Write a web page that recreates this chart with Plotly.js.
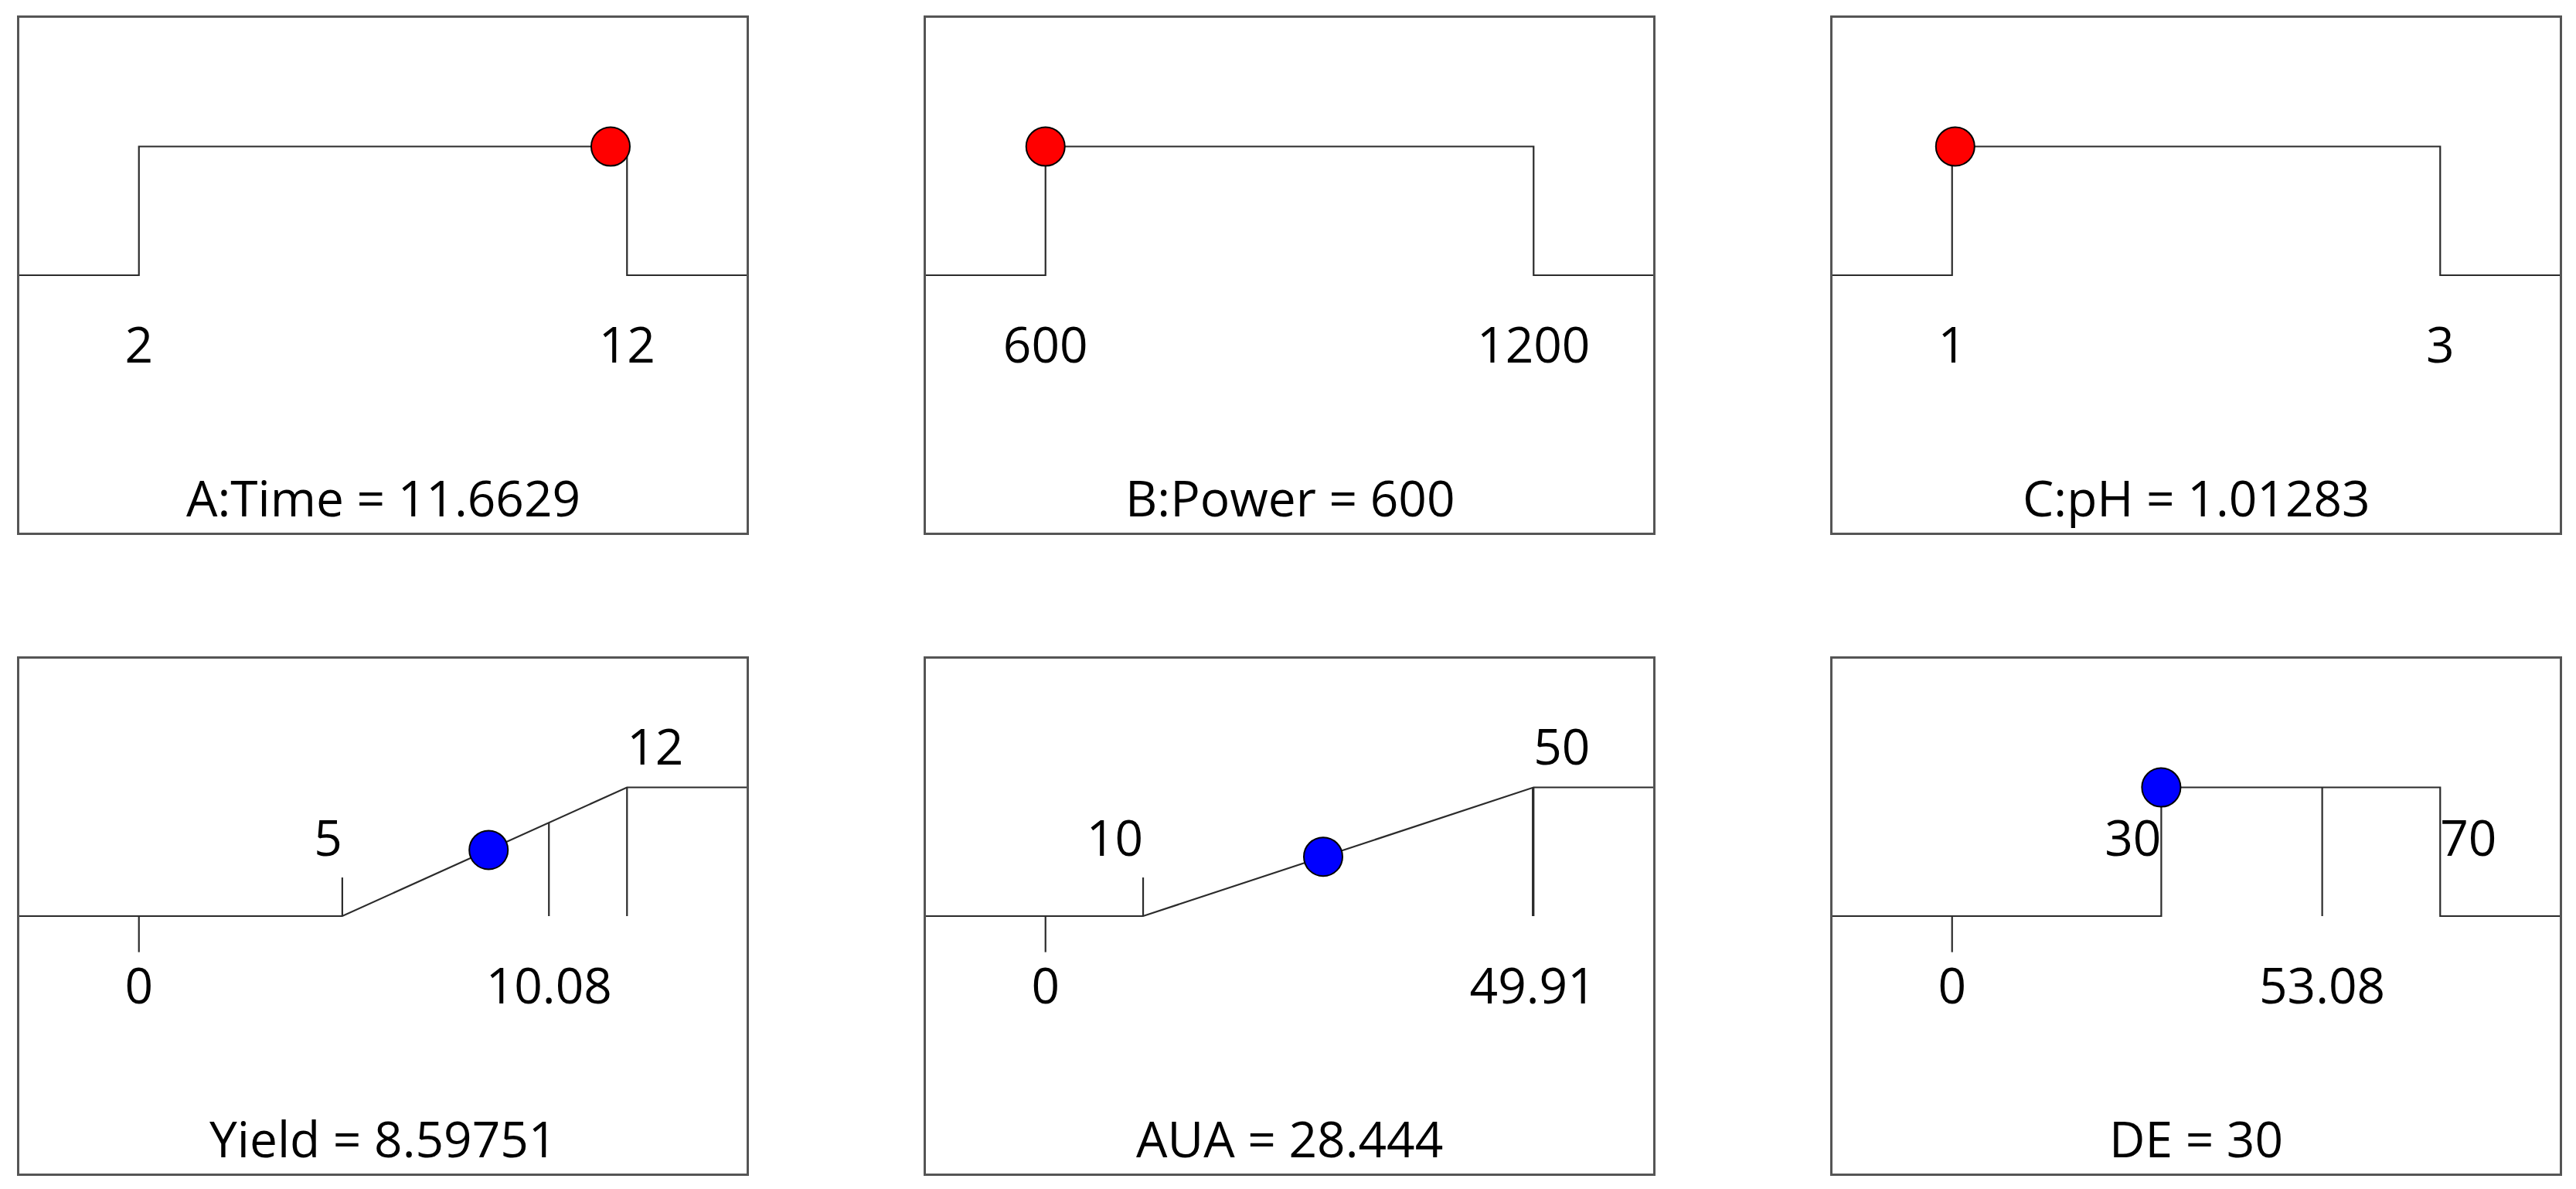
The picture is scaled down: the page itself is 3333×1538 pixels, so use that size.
<!DOCTYPE html>
<html>
<head>
<meta charset="utf-8">
<script src="https://cdn.plot.ly/plotly-3.0.1.min.js"></script>
<style>
html,body{margin:0;padding:0;background:#fff;}
#chart{width:3333px;height:1538px;}
</style>
</head>
<body>
<div id="chart"></div>
<script>
// ---------------- data ----------------
const factorNames  = ['A:Time', 'B:Power', 'C:pH'];
const factorLow    = [2, 600, 1];
const factorHigh   = [12, 1200, 3];
const factorValue  = [11.6629, 600, 1.01283];
const factorValueText = ['11.6629', '600', '1.01283'];
const factorLowText  = ['2', '600', '1'];
const factorHighText = ['12', '1200', '3'];

const responseNames = ['Yield', 'AUA', 'DE'];
const responseGoal  = ['maximize', 'maximize', 'range'];
const responseLow   = [5, 10, 30];
const responseHigh  = [12, 50, 70];
const responseObsMin = [0, 0, 0];
const responseObsMax = [10.08, 49.91, 53.08];
const responseValue  = [8.59751, 28.444, 30];
const responseDesirability = [0.514, 0.461, 1];
const responseValueText = ['8.59751', '28.444', '30'];
const responseLowText  = ['5', '10', '30'];
const responseHighText = ['12', '50', '70'];
const responseObsMinText = ['0', '0', '0'];
const responseObsMaxText = ['10.08', '49.91', '53.08'];

// ---------------- styles / layout constants ----------------
const W = 3333, H = 1538;
const colPx = [[25, 966], [1198, 2139], [2371, 3312]];
const rowPx = [[23, 689], [852, 1518]];
const EXT = 0.245;               // axis padding as fraction of span
const FONT = 'Open Sans, Noto Sans, sans-serif';
const FS = 64;
const LINE = '#2b2b2b';
const LW = 2.2;
const BORDER = '#555555';
const Y_BELOW = -0.584, Y_TOPLOW = 0.564, Y_TOPHIGH = 1.272, TICK_DN = -0.28, TICK_UP = 0.30;

const traces = [];
const annotations = [];
const layout = {
  width: W, height: H,
  margin: {l: 0, r: 0, t: 0, b: 0},
  paper_bgcolor: '#ffffff', plot_bgcolor: '#ffffff',
  showlegend: false, hovermode: false,
  font: {family: FONT, size: FS, color: '#000'}
};

function axisNames(i) {
  const n = i === 0 ? '' : String(i + 1);
  return {xa: 'xaxis' + n, ya: 'yaxis' + n, x: 'x' + n, y: 'y' + n};
}

function setupAxes(i, row, col, lo, hi) {
  const a = axisNames(i);
  const span = hi - lo;
  const common = {showgrid: false, zeroline: false, showticklabels: false, ticks: '',
                  showline: true, mirror: true, linecolor: BORDER, linewidth: 3, fixedrange: true};
  layout[a.xa] = Object.assign({}, common, {
    domain: [colPx[col][0] / W, colPx[col][1] / W],
    range: [lo - EXT * span, hi + EXT * span], anchor: a.y
  });
  layout[a.ya] = Object.assign({}, common, {
    domain: [1 - rowPx[row][1] / H, 1 - rowPx[row][0] / H],
    range: [-2, 2], anchor: a.x
  });
  return a;
}

function line(a, xs, ys) {
  traces.push({type: 'scatter', mode: 'lines', x: xs, y: ys, xaxis: a.x, yaxis: a.y,
    line: {color: LINE, width: LW}, hoverinfo: 'skip'});
}
function text(a, xs, ys, txt, pos) {
  traces.push({type: 'scatter', mode: 'text', x: xs, y: ys, text: txt, textposition: pos,
    xaxis: a.x, yaxis: a.y, textfont: {family: FONT, size: FS, color: '#000'},
    cliponaxis: false, hoverinfo: 'skip'});
}
function point(a, x, y, color) {
  traces.push({type: 'scatter', mode: 'markers', x: [x], y: [y], xaxis: a.x, yaxis: a.y,
    marker: {size: 50, color: color, line: {color: '#000', width: 2}},
    cliponaxis: false, hoverinfo: 'skip'});
}
function title(a, str) {
  annotations.push({xref: a.x + ' domain', yref: a.y + ' domain', x: 0.5, y: 0.069,
    xanchor: 'center', yanchor: 'middle', text: str, showarrow: false,
    font: {family: FONT, size: FS, color: '#000'}});
}

// ---------------- factors (top row) ----------------
factorNames.forEach((name, k) => {
  const lo = factorLow[k], hi = factorHigh[k], span = hi - lo;
  const a = setupAxes(k, 0, k, lo, hi);
  line(a, [lo - 2 * span, lo, lo, hi, hi, hi + 2 * span], [0, 0, 1, 1, 0, 0]);
  text(a, [lo, hi], [Y_BELOW, Y_BELOW], [factorLowText[k], factorHighText[k]], 'middle center');
  point(a, factorValue[k], 1, '#ff0000');
  title(a, name + ' = ' + factorValueText[k]);
});

// ---------------- responses (bottom row) ----------------
responseNames.forEach((name, k) => {
  const low = responseLow[k], high = responseHigh[k];
  const lo = Math.min(responseObsMin[k], low), hi = Math.max(responseObsMax[k], high);
  const span = hi - lo;
  const a = setupAxes(k + 3, 1, k, lo, hi);
  const ramp = v => Math.max(0, Math.min(1, (v - low) / (high - low)));
  if (responseGoal[k] === 'maximize') {
    line(a, [lo - 2 * span, low, high, hi + 2 * span], [0, 0, 1, 1]);
    line(a, [low, low], [0, TICK_UP]);
    line(a, [high, high], [0, 1]);
    line(a, [responseObsMax[k], responseObsMax[k]], [0, ramp(responseObsMax[k])]);
    text(a, [low], [Y_TOPLOW], [responseLowText[k]], 'middle left');
    text(a, [high], [Y_TOPHIGH], [responseHighText[k]], 'middle right');
  } else {
    line(a, [lo - 2 * span, low, low, high, high, hi + 2 * span], [0, 0, 1, 1, 0, 0]);
    line(a, [responseObsMax[k], responseObsMax[k]], [0, 1]);
    text(a, [low], [Y_TOPLOW], [responseLowText[k]], 'middle left');
    text(a, [high], [Y_TOPLOW], [responseHighText[k]], 'middle right');
  }
  line(a, [responseObsMin[k], responseObsMin[k]], [0, TICK_DN]);
  text(a, [responseObsMin[k], responseObsMax[k]], [Y_BELOW, Y_BELOW],
       [responseObsMinText[k], responseObsMaxText[k]], 'middle center');
  point(a, responseValue[k], responseDesirability[k], '#0000ff');
  title(a, name + ' = ' + responseValueText[k]);
});

layout.annotations = annotations;
Plotly.newPlot('chart', traces, layout, {displayModeBar: false, staticPlot: true});
</script>
</body>
</html>
